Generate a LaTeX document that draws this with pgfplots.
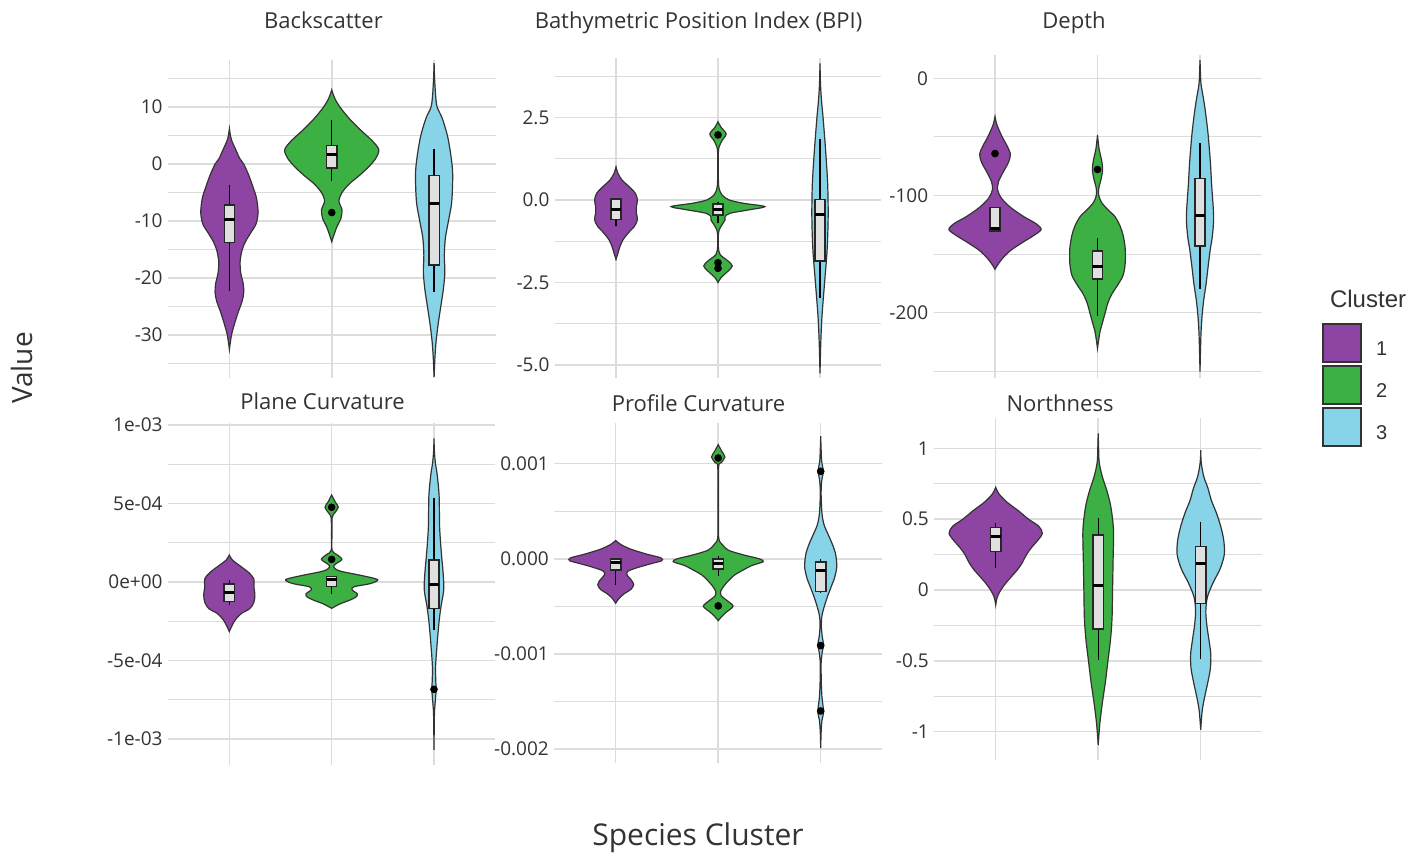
\documentclass[border=0pt]{standalone}
\usepackage{pgfplots}
\pgfplotsset{compat=1.18}
\usepackage{pgfplotstable}
\usepgfplotslibrary{fillbetween,statistics}
\usepackage{fontspec}
\setmainfont{Open Sans}
\newfontfamily\legfont{Liberation Sans}

\definecolor{cA}{HTML}{8E44A3}
\definecolor{cB}{HTML}{3DB043}
\definecolor{cC}{HTML}{87D3E8}
\definecolor{outl}{HTML}{333333}
\definecolor{boxedge}{HTML}{262626}
\definecolor{boxfill}{HTML}{E0E0E0}
\definecolor{gridc}{HTML}{DCDCDC}
\definecolor{txt}{HTML}{333333}

% ---------- violin outlines: y value and half width (in category units) ----------
% Backscatter
\pgfplotstableread{
y w
6.2 0
5 0.01
4 0.025
3 0.05
2 0.075
1 0.1
0 0.14
-2 0.19
-4 0.23
-6 0.265
-8.5 0.28
-10.5 0.26
-12 0.21
-13.5 0.16
-15 0.125
-17 0.105
-19 0.11
-21 0.135
-22.5 0.14
-24 0.125
-26 0.085
-28 0.05
-30 0.02
-32.5 0
}\bsA
\pgfplotstableread{
y w
13 0
11.5 0.03
10 0.08
8 0.17
6 0.28
4 0.4
2.5 0.46
1 0.43
-0.5 0.36
-2 0.27
-3.5 0.17
-5 0.1
-6.5 0.07
-8 0.1
-9.5 0.09
-11 0.05
-12.5 0.02
-13.6 0
}\bsB
\pgfplotstableread{
y w
17.7 0
15 0.005
12 0.015
10 0.03
8 0.08
5 0.13
2 0.16
-1 0.18
-4 0.18
-7 0.17
-10 0.14
-13 0.11
-16 0.1
-19 0.105
-22 0.09
-25 0.065
-28 0.04
-31 0.02
-34 0.008
-37.3 0
}\bsC
% Bathymetric Position Index
\pgfplotstableread{
y w
1.0 0
0.8 0.02
0.6 0.06
0.4 0.13
0.2 0.19
0.0 0.21
-0.2 0.2
-0.4 0.2
-0.6 0.21
-0.8 0.18
-1.0 0.12
-1.2 0.07
-1.4 0.04
-1.6 0.02
-1.8 0
}\bpA
\pgfplotstableread{
y w
2.37 0
2.2 0.03
2.0 0.08
1.8 0.04
1.6 0.01
1.4 0.003
1.0 0.003
0.6 0.004
0.35 0.01
0.15 0.04
0.0 0.11
-0.1 0.25
-0.2 0.46
-0.3 0.3
-0.4 0.12
-0.5 0.07
-0.6 0.07
-0.7 0.05
-0.85 0.02
-1.0 0.005
-1.4 0.003
-1.65 0.02
-1.85 0.1
-2.0 0.14
-2.15 0.1
-2.35 0.03
-2.5 0
}\bpB
\pgfplotstableread{
y w
4.14 0
3.5 0.005
3.0 0.015
2.5 0.03
1.5 0.055
0.5 0.075
-0.5 0.08
-1.5 0.07
-2.5 0.045
-3.5 0.02
-4.3 0.008
-5.25 0
}\bpC
% Depth
\pgfplotstableread{
y w
-32.7 0
-40 0.02
-50 0.07
-58 0.12
-65 0.15
-72 0.13
-80 0.08
-88 0.035
-95 0.025
-102 0.06
-110 0.15
-118 0.28
-124 0.4
-129 0.45
-134 0.38
-140 0.27
-147 0.15
-154 0.07
-160 0.02
-163 0
}\dpA
\pgfplotstableread{
y w
-48.4 0
-60 0.015
-70 0.04
-78 0.05
-86 0.035
-94 0.012
-100 0.012
-106 0.04
-112 0.1
-118 0.17
-126 0.22
-134 0.25
-145 0.27
-158 0.27
-168 0.25
-176 0.2
-184 0.14
-192 0.1
-200 0.075
-208 0.05
-216 0.025
-224 0.01
-230.4 0
}\dpB
\pgfplotstableread{
y w
15.6 0
5 0.004
-5 0.01
-18 0.035
-30 0.055
-47 0.078
-70 0.1
-90 0.113
-118 0.133
-135 0.12
-146 0.1
-160 0.08
-175 0.06
-190 0.035
-203 0.02
-217 0.01
-235 0.004
-250.3 0
}\dpC
% Plane curvature (values in units of 1e-4)
\pgfplotstableread{
y w
1.72 0
1.4 0.03
1.0 0.11
0.6 0.19
0.2 0.24
-0.3 0.24
-0.8 0.25
-1.3 0.24
-1.7 0.2
-2.0 0.12
-2.4 0.06
-2.8 0.025
-3.16 0
}\plA
\pgfplotstableread{
y w
5.54 0
5.1 0.035
4.76 0.065
4.4 0.03
4.1 0.005
3.0 0.003
2.0 0.005
1.75 0.05
1.44 0.1
1.15 0.04
0.95 0.02
0.7 0.08
0.4 0.3
0.15 0.45
-0.1 0.38
-0.3 0.22
-0.5 0.2
-0.75 0.25
-0.95 0.24
-1.15 0.18
-1.4 0.08
-1.68 0
}\plB
\pgfplotstableread{
y w
9.15 0
8.3 0.004
7.5 0.015
6.9 0.03
5.5 0.05
3.5 0.055
2.0 0.07
0.5 0.09
-0.5 0.095
-1.5 0.07
-2.5 0.05
-4.0 0.03
-5.5 0.015
-6.9 0.02
-7.8 0.01
-8.5 0.004
-10.7 0
}\plC
% Profile curvature (values in units of 1e-4)
\pgfplotstableread{
y w
1.93 0
1.5 0.05
1.0 0.15
0.5 0.3
0.1 0.44
-0.2 0.45
-0.5 0.35
-0.9 0.22
-1.3 0.12
-1.7 0.11
-2.2 0.15
-2.7 0.175
-3.2 0.15
-3.7 0.08
-4.2 0.03
-4.67 0
}\prA
\pgfplotstableread{
y w
12.0 0
11.3 0.035
10.7 0.065
10.1 0.03
9.6 0.004
5 0.003
2.2 0.005
1.5 0.04
0.9 0.1
0.4 0.25
0.0 0.4
-0.3 0.44
-0.7 0.33
-1.2 0.24
-1.7 0.16
-2.2 0.11
-2.8 0.06
-3.4 0.025
-3.9 0.03
-4.5 0.1
-5.0 0.145
-5.6 0.08
-6.0 0.04
-6.5 0
}\prB
\pgfplotstableread{
y w
12.9 0
11.5 0.004
10.2 0.01
9.2 0.025
8.2 0.01
7.0 0.004
5.5 0.008
4.5 0.015
3.5 0.035
2.5 0.075
1.5 0.115
0.5 0.145
-0.8 0.157
-2.0 0.135
-3.0 0.1
-4.0 0.065
-5.0 0.035
-6.0 0.012
-7.0 0.006
-8.2 0.015
-9.0 0.028
-9.8 0.015
-11.0 0.004
-13.0 0.006
-14.5 0.012
-16.1 0.028
-17.0 0.012
-18.3 0.004
-19.9 0
}\prC
% Northness
\pgfplotstableread{
y w
0.725 0
0.68 0.03
0.62 0.11
0.56 0.22
0.5 0.32
0.45 0.42
0.4 0.455
0.35 0.41
0.3 0.35
0.25 0.3
0.2 0.265
0.15 0.22
0.1 0.16
0.05 0.1
0.0 0.05
-0.05 0.015
-0.106 0
}\noA
\pgfplotstableread{
y w
1.106 0
1.0 0.004
0.9 0.01
0.8 0.04
0.7 0.085
0.6 0.12
0.5 0.14
0.4 0.15
0.2 0.145
0.0 0.14
-0.2 0.135
-0.35 0.12
-0.5 0.095
-0.65 0.07
-0.8 0.04
-0.95 0.015
-1.094 0
}\noB
\pgfplotstableread{
y w
0.988 0
0.9 0.005
0.8 0.03
0.72 0.07
0.63 0.105
0.55 0.15
0.45 0.195
0.35 0.225
0.25 0.23
0.15 0.19
0.05 0.12
-0.05 0.065
-0.15 0.05
-0.25 0.06
-0.35 0.08
-0.45 0.098
-0.55 0.095
-0.65 0.07
-0.75 0.04
-0.85 0.015
-0.988 0
}\noC

% one violin: id, category position, outline table, fill colour
\newcommand\violin[4]{%
  \addplot[name path=#1r, draw=none, smooth, forget plot] table[x expr={#2+\thisrow{w}}, y=y]{#3};
  \addplot[name path=#1l, draw=none, smooth, forget plot] table[x expr={#2-\thisrow{w}}, y=y]{#3};
  \addplot[fill=#4, draw=outl, line width=0.6pt, forget plot] fill between[of=#1r and #1l, reverse=true];
}
% one box: position, lower whisker, lower quartile, median, upper quartile, upper whisker
\newcommand\bx[6]{%
  \addplot[forget plot, draw=boxedge, fill=boxfill, line width=0.7pt,
    boxplot prepared={draw direction=y, draw position=#1, lower whisker=#2, lower quartile=#3,
      median=#4, upper quartile=#5, upper whisker=#6, box extend=0.1, whisker extend=0,
      every median/.style={black, line width=1.5pt},
      every whisker/.style={black, line width=0.65pt}}] coordinates {};
}
\newcommand\outl[1]{%
  \addplot[only marks, mark=*, mark size=1.7pt, black, forget plot] coordinates {#1};
}

\pgfplotsset{
  facet/.style={
    scale only axis, anchor=north west,
    xmin=0.4, xmax=3.6, xtick={1,2,3}, xticklabels={},
    axis line style={draw=none}, tick style={draw=none},
    major tick length=0pt, minor tick length=0pt,
    xmajorgrids, ymajorgrids, yminorgrids,
    major grid style={gridc, line width=0.75pt},
    minor grid style={gridc, line width=0.55pt},
    yticklabel style={font=\fontsize{9.5}{11}\selectfont, text=txt, inner sep=2.5pt},
  }}

\begin{document}
\begin{tikzpicture}

% ---------------- Backscatter ----------------
\begin{axis}[facet, at={(84pt,397pt)}, width=163.75pt, height=159pt,
  ymin=-37.5, ymax=18.25,
  ytick={-30,-20,-10,0,10}, yticklabels={-30,-20,-10,0,10},
  minor ytick={-35,-25,-15,-5,5,15}]
  \violin{a1}{1}{\bsA}{cA}
  \violin{a2}{2}{\bsB}{cB}
  \violin{a3}{3}{\bsC}{cC}
  \bx{1}{-22.2}{-13.7}{-9.7}{-7.2}{-3.7}
  \bx{2}{-2.9}{-0.7}{1.6}{3.3}{7.8}
  \bx{3}{-22.4}{-17.7}{-6.9}{-2.0}{2.6}
  \outl{(2,-8.5)}
\end{axis}

% ---------------- BPI ----------------
\begin{axis}[facet, at={(277.4pt,398pt)}, width=163.2pt, height=160pt,
  ymin=-5.39, ymax=4.3,
  ytick={-5,-2.5,0,2.5}, yticklabels={-5.0,-2.5,0.0,2.5},
  minor ytick={-3.75,-1.25,1.25,3.75}]
  \violin{b1}{1}{\bpA}{cA}
  \violin{b2}{2}{\bpB}{cB}
  \violin{b3}{3}{\bpC}{cC}
  \bx{1}{-0.8}{-0.6}{-0.28}{0.03}{0.03}
  \bx{2}{-0.7}{-0.45}{-0.3}{-0.12}{-0.05}
  \bx{3}{-2.98}{-1.85}{-0.45}{0.02}{1.86}
  \outl{(2,1.97) (2,-1.9) (2,-2.07)}
\end{axis}

% ---------------- Depth ----------------
\begin{axis}[facet, at={(466.75pt,399.5pt)}, width=164pt, height=161.5pt,
  ymin=-255.7, ymax=19.9,
  ytick={-200,-100,0}, yticklabels={-200,-100,0},
  minor ytick={-250,-150,-50},
  legend style={at={(1.1835,0.1724)}, anchor=north west, draw=none, fill=none,
    inner sep=0pt, row sep=1pt, column sep=7pt,
    font=\legfont\fontsize{10}{12}\selectfont, text=txt, nodes={inner sep=0pt}},
  legend cell align=left,
  legend image code/.code={\draw[#1, draw=outl, line width=1pt] (0pt,-6pt) rectangle (19pt,13pt);}]
  \violin{c1}{1}{\dpA}{cA}
  \violin{c2}{2}{\dpB}{cB}
  \violin{c3}{3}{\dpC}{cC}
  \bx{1}{-130.3}{-130.3}{-128.5}{-110.4}{-110.4}
  \bx{2}{-203}{-171.3}{-160.2}{-147.4}{-136.4}
  \bx{3}{-179.7}{-143.1}{-117.2}{-85.3}{-55.5}
  \outl{(1,-64.2) (2,-77.8)}
  \addlegendimage{fill=cA}\addlegendentry{1}
  \addlegendimage{fill=cB}\addlegendentry{2}
  \addlegendimage{fill=cC}\addlegendentry{3}
\end{axis}

% ---------------- Plane Curvature (axis unit 1e-4) ----------------
\begin{axis}[facet, at={(83.95pt,215.5pt)}, width=163.75pt, height=171pt,
  ymin=-11.66, ymax=10.13,
  ytick={-10,-5,0,5,10}, yticklabels={-1e-03,-5e-04,0e+00,5e-04,1e-03},
  minor ytick={-7.5,-2.5,2.5,7.5}]
  \violin{d1}{1}{\plA}{cA}
  \violin{d2}{2}{\plB}{cB}
  \violin{d3}{3}{\plC}{cC}
  \bx{1}{-1.48}{-1.26}{-0.68}{-0.13}{0.13}
  \bx{2}{-0.78}{-0.3}{0.13}{0.34}{0.34}
  \bx{3}{-3.06}{-1.68}{-0.15}{1.4}{5.33}
  \outl{(2,4.76) (2,1.44) (3,-6.84)}
\end{axis}

% ---------------- Profile Curvature (axis unit 1e-4) ----------------
\begin{axis}[facet, at={(277.1pt,215.5pt)}, width=164pt, height=170.15pt,
  ymin=-21.5, ymax=14.28,
  ytick={-20,-10,0,10}, yticklabels={-0.002,-0.001,0.000,0.001},
  minor ytick={-15,-5,5}]
  \violin{e1}{1}{\prA}{cA}
  \violin{e2}{2}{\prB}{cB}
  \violin{e3}{3}{\prC}{cC}
  \bx{1}{-2.74}{-1.16}{-0.35}{-0.03}{-0.03}
  \bx{2}{-1.86}{-1.09}{-0.46}{-0.03}{0.32}
  \bx{3}{-3.5}{-3.44}{-1.26}{-0.35}{-0.03}
  \outl{(2,10.6) (2,-4.95) (3,9.2) (3,-9.12) (3,-16.0)}
\end{axis}

% ---------------- Northness ----------------
\begin{axis}[facet, at={(467.1pt,217.85pt)}, width=164pt, height=170.85pt,
  ymin=-1.2, ymax=1.212,
  ytick={-1,-0.5,0,0.5,1}, yticklabels={-1,-0.5,0,0.5,1},
  minor ytick={-0.75,-0.25,0.25,0.75}]
  \violin{f1}{1}{\noA}{cA}
  \violin{f2}{2}{\noB}{cB}
  \violin{f3}{3}{\noC}{cC}
  \bx{1}{0.153}{0.27}{0.376}{0.44}{0.47}
  \bx{2}{-0.494}{-0.275}{0.035}{0.388}{0.506}
  \bx{3}{-0.489}{-0.094}{0.188}{0.306}{0.482}
\end{axis}

% ---------------- titles and labels ----------------
\begin{scope}[every node/.style={anchor=base, text=txt, font=\fontsize{11}{13}\selectfont}]
\node at (161.75pt,412.8pt) {Backscatter};
\node at (349.25pt,412.6pt) {Bathymetric Position Index (BPI)};
\node at (537pt,412.7pt) {Depth};
\node at (161.25pt,222pt) {Plane Curvature};
\node at (349.25pt,221pt) {Profile Curvature};
\node at (530pt,221pt) {Northness};
\end{scope}
\node[anchor=base, text=txt, font=\fontsize{15}{18}\selectfont] at (349pt,4pt) {Species Cluster};
\node[anchor=base, rotate=90, text=txt, font=\fontsize{14}{17}\selectfont] at (16pt,243pt) {Value};
\node[anchor=base west, text=txt, font=\legfont\fontsize{12}{14}\selectfont] at (661.5pt,273.4pt) {Cluster};

\pgfresetboundingbox
\useasboundingbox (0,0) rectangle (712pt,427pt);
\end{tikzpicture}
\end{document}
